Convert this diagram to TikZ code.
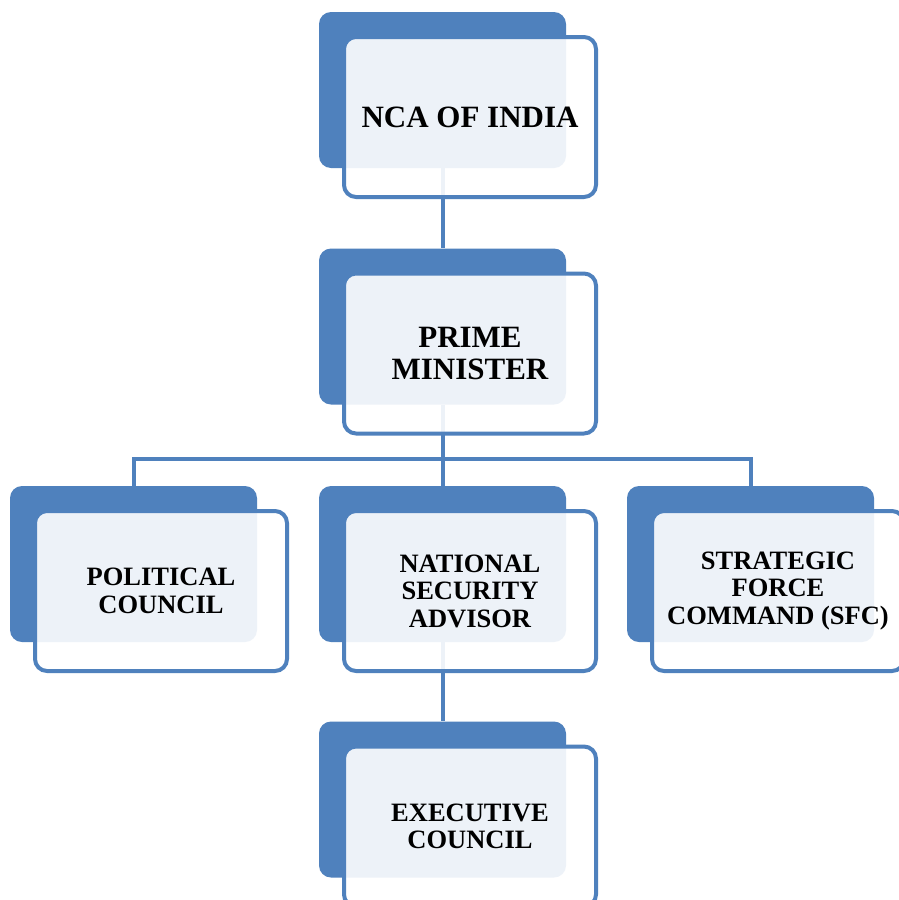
\documentclass[tikz,border=0pt]{standalone}
\usepackage{fontspec}
\setmainfont{Liberation Serif}
\usetikzlibrary{calc}
\definecolor{smartblue}{HTML}{4F81BD}
\tikzset{
	backbox/.style={rectangle, rounded corners=12pt, fill=smartblue, minimum width=247pt, minimum height=156pt, inner sep=0pt},
	frontbox/.style={rectangle, rounded corners=12pt, draw=smartblue, line width=4pt, fill=white, fill opacity=0.9, text opacity=1, minimum width=252pt, minimum height=160pt, align=center, font=\bfseries\fontsize{26.5}{27.5}\selectfont},
	bigtext/.style={font=\bfseries\fontsize{31}{32}\selectfont},
	link/.style={draw=smartblue, line width=4pt}
}

\begin{document}
\begin{tikzpicture}[x=1pt, y=-1pt]
			%%%%% START %%%%%
			
			\useasboundingbox[fill=white] (0, 0) rectangle (898, 900);
			
			\node[backbox] (nca) at (442.5, 90) {};
			\node[backbox] (pm) at (442.5, 326.5) {};
			\node[backbox] (pc) at (133.5, 564) {};
			\node[backbox] (nsa) at (442.5, 564) {};
			\node[backbox] (sfc) at (750.5, 564) {};
			\node[backbox] (ec) at (442.5, 799.5) {};
			
			\coordinate (bus) at (442.5, 459);
			
			\draw[link] (nca.south) -- (pm.north);
			\draw[link] (pm.south) -- (nsa.north);
			\draw[link] (pc.north) |- (bus) -| (sfc.north);
			\draw[link] (nsa.south) -- (ec.north);
			
			\node[frontbox, bigtext] (ncat) at ([shift={(27.5, 27)}]nca.center) {NCA OF INDIA};
			\node[frontbox, bigtext] (pmt) at ([shift={(27.5, 27)}]pm.center) {PRIME\\MINISTER};
			\node[frontbox] (pct) at ([shift={(27.5, 27)}]pc.center) {POLITICAL\\COUNCIL};
			\node[frontbox] (nsat) at ([shift={(27.5, 27)}]nsa.center) {NATIONAL\\SECURITY\\ADVISOR};
			\node[frontbox] (sfct) at ([shift={(27.5, 27)}]sfc.center) {STRATEGIC\\FORCE\\COMMAND (SFC)};
			\node[frontbox] (ect) at ([shift={(27.5, 27)}]ec.center) {EXECUTIVE\\COUNCIL};
			
			%%%%% END %%%%%
\end{tikzpicture}
\end{document}
